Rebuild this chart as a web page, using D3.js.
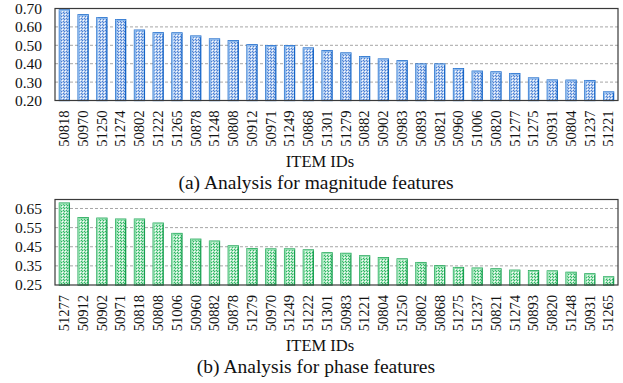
<!DOCTYPE html>
<html><head><meta charset="utf-8">
<script src="https://cdn.jsdelivr.net/npm/d3@7"></script>
<style>body{margin:0;background:#fff}svg{display:block}svg text{font-family:"Liberation Serif","Times New Roman",Times,serif !important}</style>
</head><body><svg id="c" width="623" height="383"></svg>
<script>
const magIds = ["50818","50970","51250","51274","50802","51222","51265","50878","51248","50808","50912","50971","51249","50868","51301","51279","50882","50902","50983","50893","50821","50960","51006","50820","51277","51275","50931","50804","51237","51221"];
const magVals = [0.692,0.666,0.650,0.639,0.582,0.568,0.567,0.550,0.534,0.525,0.503,0.498,0.498,0.485,0.471,0.458,0.438,0.425,0.416,0.398,0.398,0.373,0.359,0.355,0.346,0.322,0.311,0.310,0.308,0.246];
const magTicks = [0.20,0.30,0.40,0.50,0.60,0.70];
const phaseIds = ["51277","50912","50902","50971","50818","50808","51006","50960","50882","50878","51279","50970","51249","51222","51301","50983","51221","50804","51250","50802","50868","51275","51237","50821","51274","50893","50820","51248","50931","51265"];
const phaseVals = [0.678,0.602,0.599,0.594,0.594,0.573,0.519,0.489,0.479,0.454,0.440,0.438,0.438,0.433,0.418,0.415,0.402,0.393,0.386,0.367,0.350,0.341,0.338,0.334,0.327,0.325,0.323,0.316,0.308,0.292];
const phaseTicks = [0.25,0.35,0.45,0.55,0.65];

const svg = d3.select("#c");
const defs = svg.append("defs");
function mkPattern(id, base, dark){
  const p = defs.append("pattern").attr("id", id).attr("patternUnits","userSpaceOnUse")
    .attr("width",3).attr("height",3);
  p.append("rect").attr("width",3).attr("height",3).attr("fill",base);
  p.append("rect").attr("x",0).attr("y",0).attr("width",1).attr("height",1).attr("fill",dark);
  p.append("rect").attr("x",1).attr("y",1).attr("width",1).attr("height",1).attr("fill",dark);
  p.append("rect").attr("x",2).attr("y",2).attr("width",1).attr("height",1).attr("fill","#ffffff");
}
mkPattern("pb","#b3cbef","#4a7fd2");
mkPattern("pg","#aee6c2","#2db562");

const font = "Liberation Serif";

function panel(cfg){
  const {ids, vals, ticks, top, bottom, dom, fmt, pat, dark, light, xTitleY, capY, cap} = cfg;
  const left = 55, right = 618;
  const x = d3.scaleBand().domain(ids).range([left,right]).paddingInner(0.47).paddingOuter(0.235);
  const y = d3.scaleLinear().domain(dom).range([bottom, top]);
  const g = svg.append("g");
  g.selectAll("line.grid").data(ticks.filter(t=>t>dom[0]+1e-9 && t<dom[1]-1e-9)).join("line")
    .attr("x1",left).attr("x2",right).attr("y1",d=>y(d)).attr("y2",d=>y(d))
    .attr("stroke","#a6a6a6").attr("stroke-width",1).attr("stroke-dasharray","3,2");
  const bw = x.bandwidth();
  const bars = g.selectAll("g.bar").data(ids).join("g");
  bars.append("rect")
    .attr("x",d=>x(d)).attr("y",(d,i)=>y(vals[i])).attr("width",bw)
    .attr("height",(d,i)=>bottom - y(vals[i]))
    .attr("fill","url(#"+pat+")").attr("stroke",dark).attr("stroke-width",1.3);
  bars.append("line")
    .attr("x1",d=>x(d)+0.6).attr("x2",d=>x(d)+0.6)
    .attr("y1",(d,i)=>y(vals[i])).attr("y2",bottom)
    .attr("stroke",light).attr("stroke-width",1.4);
  bars.append("line")
    .attr("x1",d=>x(d)).attr("x2",d=>x(d)+bw)
    .attr("y1",(d,i)=>y(vals[i])+0.6).attr("y2",(d,i)=>y(vals[i])+0.6)
    .attr("stroke",light).attr("stroke-width",1.2);
  g.append("rect").attr("x",left).attr("y",top).attr("width",right-left).attr("height",bottom-top)
    .attr("fill","none").attr("stroke","#3a3a3a").attr("stroke-width",1.2);
  const ya = d3.axisLeft(y).tickValues(ticks).tickFormat(d3.format(fmt)).tickSize(0).tickPadding(13);
  const yg = g.append("g").attr("transform",`translate(${left},0)`).call(ya);
  yg.attr("font-family",font);
  yg.select(".domain").remove();
  yg.selectAll("text").attr("font-size",15.5).attr("fill","#111");
  const xa = d3.axisBottom(x).tickSize(0).tickPadding(0);
  const xg = g.append("g").attr("transform",`translate(0,${bottom})`).call(xa);
  xg.attr("font-family",font);
  xg.select(".domain").remove();
  xg.selectAll("text").attr("font-size",14.5).attr("fill","#111")
    .attr("transform","rotate(-90)").attr("text-anchor","end")
    .attr("x",-10).attr("y",0).attr("dy","0.33em");
  g.append("text").attr("x",320).attr("y",xTitleY).attr("text-anchor","middle")
    .attr("font-family",font).attr("font-size",16.5).attr("fill","#111").text("ITEM IDs");
  g.append("text").attr("x",316).attr("y",capY).attr("text-anchor","middle")
    .attr("font-family",font).attr("font-size",19.5).attr("fill","#111").text(cap);
}

panel({ids:magIds, vals:magVals, ticks:magTicks, top:8.5, bottom:100.5, dom:[0.2,0.7], fmt:".2f",
  pat:"pb", dark:"#1565c8", light:"#8fbbee", xTitleY:167, capY:189, cap:"(a) Analysis for magnitude features"});
panel({ids:phaseIds, vals:phaseVals, ticks:phaseTicks, top:199.5, bottom:285, dom:[0.25,0.697], fmt:".2f",
  pat:"pg", dark:"#17a050", light:"#8fe0ad", xTitleY:351, capY:373, cap:"(b) Analysis for phase features"});
</script></body></html>
